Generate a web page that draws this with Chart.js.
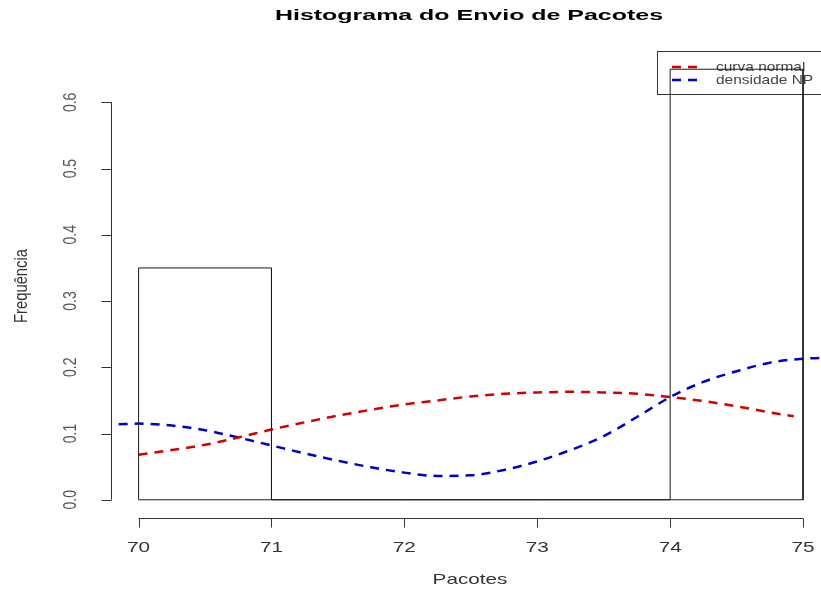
<!DOCTYPE html>
<html>
<head>
<meta charset="utf-8">
<script src="https://cdn.jsdelivr.net/npm/chart.js@4"></script>
<style>
  body { margin: 0; background: #fff; }
  #wrap { width: 821px; height: 591px; }
</style>
</head>
<body>
<div id="wrap"><canvas id="chart" width="821" height="591"></canvas></div>
<script>
// Histogram bins (edges) and relative frequency per bin
const binEdges = [70, 71, 72, 73, 74, 75];
const binFreq = [0.35, 0, 0, 0, 0.65];

// Red dashed curve: normal
const normalX = [70, 70.25, 70.5, 70.75, 71, 71.25, 71.5, 71.75, 72, 72.25, 72.5, 72.75, 73, 73.25, 73.5, 73.75, 74, 74.25, 74.5, 74.75, 74.93];
const normalY = [0.068, 0.075, 0.083, 0.094, 0.106, 0.117, 0.127, 0.136, 0.144, 0.150, 0.156, 0.160, 0.162, 0.163, 0.162, 0.160, 0.155, 0.149, 0.141, 0.132, 0.126];

// Blue dashed curve: density
const densX = [69.85, 70, 70.25, 70.5, 70.75, 71, 71.25, 71.5, 71.75, 72, 72.25, 72.5, 72.75, 73, 73.25, 73.5, 73.75, 74, 74.25, 74.5, 74.75, 75, 75.14];
const densY = [0.114, 0.115, 0.112, 0.105, 0.094, 0.082, 0.070, 0.059, 0.049, 0.041, 0.036, 0.037, 0.045, 0.058, 0.075, 0.096, 0.125, 0.155, 0.178, 0.194, 0.207, 0.213, 0.214];

// Axis ticks
const xTicks = [70, 71, 72, 73, 74, 75];
const yTicks = [0.0, 0.1, 0.2, 0.3, 0.4, 0.5, 0.6];

const legendLabels = ["curva normal", "densidade NP"];
const legendColors = ["#d40000", "#0000c8"];

// one outline per bin (empty bins leave a line at 0)
const binSets = binFreq.map((f, i) => {
  const a = binEdges[i], b = binEdges[i + 1];
  return {
    data: [{x: a, y: 0}, {x: a, y: f}, {x: b, y: f}, {x: b, y: 0}, {x: a, y: 0}],
    borderColor: "#1a1a1a",
    borderWidth: 1,
    pointRadius: 0,
    tension: 0,
    fill: false
  };
});

// the reference is stretched sideways, so text gets widened
function wideText(ctx, text, x, y, sx) {
  ctx.save();
  ctx.translate(x, y);
  ctx.scale(sx, 1);
  ctx.fillText(text, 0, 0);
  ctx.restore();
}

// R-style axes, title and legend
const rStyle = {
  id: "rStyle",
  beforeDatasetsDraw(chart) {
    const ctx = chart.ctx;
    const xs = chart.scales.x, ys = chart.scales.y;
    ctx.save();
    ctx.strokeStyle = "#333";
    ctx.lineWidth = 1;

    // x axis
    const ax = 518.5;
    ctx.beginPath();
    ctx.moveTo(xs.getPixelForValue(xTicks[0]), ax);
    ctx.lineTo(xs.getPixelForValue(xTicks[xTicks.length - 1]), ax);
    xTicks.forEach(t => {
      const px = Math.round(xs.getPixelForValue(t)) + 0.5;
      ctx.moveTo(px, ax);
      ctx.lineTo(px, ax + 9);
    });
    ctx.stroke();
    ctx.fillStyle = "#333";
    ctx.font = "15px 'Liberation Sans', Arial, sans-serif";
    ctx.textAlign = "center";
    ctx.textBaseline = "middle";
    xTicks.forEach(t => wideText(ctx, String(t), xs.getPixelForValue(t), 548, 1.38));

    // y axis
    const ay = 111.5;
    ctx.beginPath();
    ctx.moveTo(ay, ys.getPixelForValue(yTicks[0]));
    ctx.lineTo(ay, ys.getPixelForValue(yTicks[yTicks.length - 1]));
    yTicks.forEach(t => {
      const py = Math.round(ys.getPixelForValue(t)) + 0.5;
      ctx.moveTo(ay, py);
      ctx.lineTo(ay - 10, py);
    });
    ctx.stroke();
    ctx.fillStyle = "#555";
    ctx.font = "18px 'Liberation Sans', Arial, sans-serif";
    yTicks.forEach(t => {
      ctx.save();
      ctx.translate(71, ys.getPixelForValue(t));
      ctx.rotate(-Math.PI / 2);
      ctx.scale(0.78, 1);
      ctx.fillText(t.toFixed(1), 0, 0);
      ctx.restore();
    });

    // axis titles
    ctx.fillStyle = "#333";
    ctx.font = "15px 'Liberation Sans', Arial, sans-serif";
    wideText(ctx, "Pacotes", 470, 580, 1.38);
    ctx.save();
    ctx.translate(22, 286);
    ctx.rotate(-Math.PI / 2);
    ctx.font = "18px 'Liberation Sans', Arial, sans-serif";
    ctx.scale(0.82, 1);
    ctx.fillText("Frequência", 0, 0);
    ctx.restore();

    // title
    const title = "Histograma do Envio de Pacotes";
    ctx.fillStyle = "#000";
    ctx.font = "bold 15px 'Liberation Sans', Arial, sans-serif";
    wideText(ctx, title, 469, 16, 388 / ctx.measureText(title).width);

    // legend box
    ctx.strokeStyle = "#333";
    ctx.strokeRect(657.5, 51.5, 190, 43);
    ctx.textAlign = "left";
    ctx.font = "13px 'Liberation Sans', Arial, sans-serif";
    legendLabels.forEach((lab, i) => {
      const ly = 67 + i * 13;
      ctx.strokeStyle = legendColors[i];
      ctx.lineWidth = 2.5;
      ctx.setLineDash([9, 7]);
      ctx.beginPath();
      ctx.moveTo(672, ly);
      ctx.lineTo(704, ly);
      ctx.stroke();
      ctx.setLineDash([]);
      ctx.fillStyle = "#444";
      wideText(ctx, lab, 716, ly, 1.19);
    });
    ctx.restore();
  }
};

function pts(xs, ys) {
  return xs.map((x, i) => ({x: x, y: ys[i]}));
}

new Chart(document.getElementById("chart"), {
  type: "line",
  data: {
    datasets: binSets.concat([
      {
        data: pts(normalX, normalY),
        borderColor: legendColors[0],
        borderWidth: 2.5,
        borderDash: [9, 7],
        pointRadius: 0,
        cubicInterpolationMode: "monotone",
        fill: false
      },
      {
        data: pts(densX, densY),
        borderColor: legendColors[1],
        borderWidth: 2.5,
        borderDash: [9, 7],
        pointRadius: 0,
        cubicInterpolationMode: "monotone",
        fill: false
      }
    ])
  },
  options: {
    responsive: false,
    animation: false,
    layout: { padding: { left: 112, top: 52, right: 0, bottom: 74 } },
    plugins: { legend: { display: false }, tooltip: { enabled: false } },
    scales: {
      x: { type: "linear", min: 69.8, max: 75.135, display: false },
      y: { type: "linear", min: -0.026, max: 0.676, display: false }
    }
  },
  plugins: [rStyle]
});
</script>
</body>
</html>
